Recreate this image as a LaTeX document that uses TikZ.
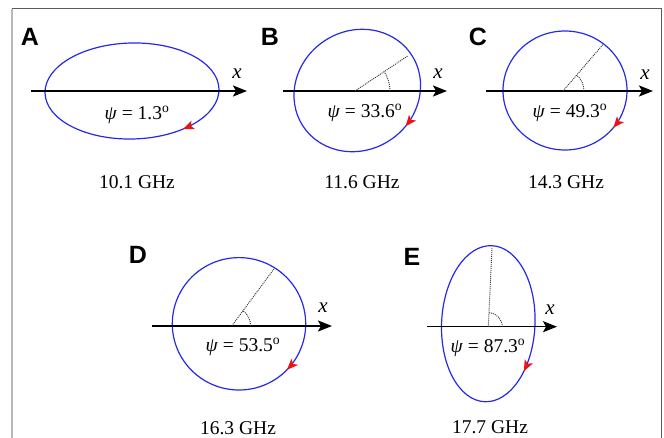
\documentclass[tikz,border=0pt]{standalone}
\usepackage{fontspec}
\setmainfont{Liberation Serif}
\newfontfamily\panelfont{Liberation Sans}
\usetikzlibrary{arrows.meta,decorations.markings}
\definecolor{orbblue}{RGB}{40,40,235}
\definecolor{tipred}{RGB}{235,20,20}
\definecolor{framedark}{RGB}{90,90,90}
\definecolor{framelight}{RGB}{185,185,185}
\tikzset{
  orbit/.style={draw=orbblue, line width=1.2pt},
  redtip/.style={postaction={decorate}, decoration={markings, mark=at position #1 with {\arrow[tipred]{Stealth[length=11pt,width=9pt,inset=2.5pt]}}}},
  xaxis/.style={line width=1.4pt, -{Stealth[length=14pt,width=11pt,inset=3pt]}},
  guide/.style={dash pattern=on 1pt off 1pt, line width=0.9pt, draw=black!80},
  panellab/.style={font=\panelfont\bfseries\fontsize{25}{25}\selectfont},
  axlabel/.style={font=\itshape\fontsize{21}{21}\selectfont},
  psilabel/.style={font=\fontsize{19.5}{19.5}\selectfont},
  freq/.style={font=\fontsize{19.5}{19.5}\selectfont},
}
\begin{document}
\begin{tikzpicture}[x=1pt,y=-1pt]
\useasboundingbox (0,0) rectangle (664,438);
\fill[white] (0,0) rectangle (664,438);
\draw[framelight, line width=1.8pt] (12,9) -- (12,438);
\draw[framedark, line width=1pt] (12,9) -- (661,9) -- (661,438);

% ---------- A ----------
\coordinate (cA) at (132,91);
\draw[orbit, redtip=0.132, rotate around={1.3:(cA)}] (cA) ellipse [x radius=87, y radius=48];
\coordinate (aA1) at (31,91); \coordinate (aA2) at (247,91);
\draw[xaxis] (aA1) -- (aA2);
\node[panellab] (labA) at (30,37) {A};
\node[axlabel] (xA) at (237,74) {x};
\node[psilabel] (psiA) at (137,115) {\textit{ψ} = 1.3\textsuperscript{o}};
\node[freq] (fA) at (137,182) {10.1 GHz};

% ---------- B ----------
\coordinate (cB) at (357.3,90.5);
\draw[orbit, redtip=0.197, rotate around={33.6:(cB)}] (cB) ellipse [x radius=64.9, y radius=59.5];
\coordinate (aB1) at (283,91); \coordinate (aB2) at (447,91);
\draw[xaxis] (aB1) -- (aB2);
\coordinate (oB) at (355,91);
\draw[guide] (oB) -- ++(-33.6:64);
\draw[guide] ([xshift=35pt]oB) arc[start angle=0, end angle=-33.6, radius=35];
\node[panellab] (labB) at (270,37) {B};
\node[axlabel] (xB) at (438,74) {x};
\node[psilabel] (psiB) at (365,113) {\textit{ψ} = 33.6\textsuperscript{o}};
\node[freq] (fB) at (362,182) {11.6 GHz};

% ---------- C ----------
\coordinate (cC) at (565,90.5);
\draw[orbit, redtip=0.106] (cC) ellipse [x radius=62, y radius=59.5];
\coordinate (aC1) at (486,91); \coordinate (aC2) at (653,91);
\draw[xaxis] (aC1) -- (aC2);
\coordinate (oC) at (563,91);
\draw[guide] (oC) -- ++(-49.3:61);
\draw[guide] ([xshift=21pt]oC) arc[start angle=0, end angle=-49.3, radius=21];
\node[panellab] (labC) at (478,37) {C};
\node[axlabel] (xC) at (645,75) {x};
\node[psilabel] (psiC) at (570,113) {\textit{ψ} = 49.3\textsuperscript{o}};
\node[freq] (fC) at (566,182) {14.3 GHz};

% ---------- D ----------
\coordinate (cD) at (239,323.8);
\draw[orbit, redtip=0.122] (cD) ellipse [x radius=66.7, y radius=66.2];
\coordinate (aD1) at (152,326); \coordinate (aD2) at (332,326);
\draw[xaxis] (aD1) -- (aD2);
\coordinate (oD) at (231.7,326);
\draw[guide] (oD) -- ++(-53.5:71);
\draw[guide] ([xshift=19pt]oD) arc[start angle=0, end angle=-53.5, radius=19];
\node[panellab] (labD) at (138,255) {D};
\node[axlabel] (xD) at (323,308) {x};
\node[psilabel] (psiD) at (243,347) {\textit{ψ} = 53.5\textsuperscript{o}};
\node[freq] (fD) at (238,428) {16.3 GHz};

% ---------- E ----------
\coordinate (cE) at (488.3,323.7);
\draw[orbit, redtip=0.368, rotate around={87.3:(cE)}] (cE) ellipse [x radius=78.1, y radius=46.7];
\coordinate (aE1) at (427,326.7); \coordinate (aE2) at (557,326.7);
\draw[xaxis] (aE1) -- (aE2);
\coordinate (oE) at (488.3,326.7);
\draw[guide] (oE) -- ++(-87.3:80);
\draw[guide] ([xshift=14pt]oE) arc[start angle=0, end angle=-87.3, radius=14];
\node[panellab] (labE) at (412,257) {E};
\node[axlabel] (xE) at (550,310) {x};
\node[psilabel] (psiE) at (488,348) {\textit{ψ} = 87.3\textsuperscript{o}};
\node[freq] (fE) at (490,427) {17.7 GHz};
\end{tikzpicture}
\end{document}
